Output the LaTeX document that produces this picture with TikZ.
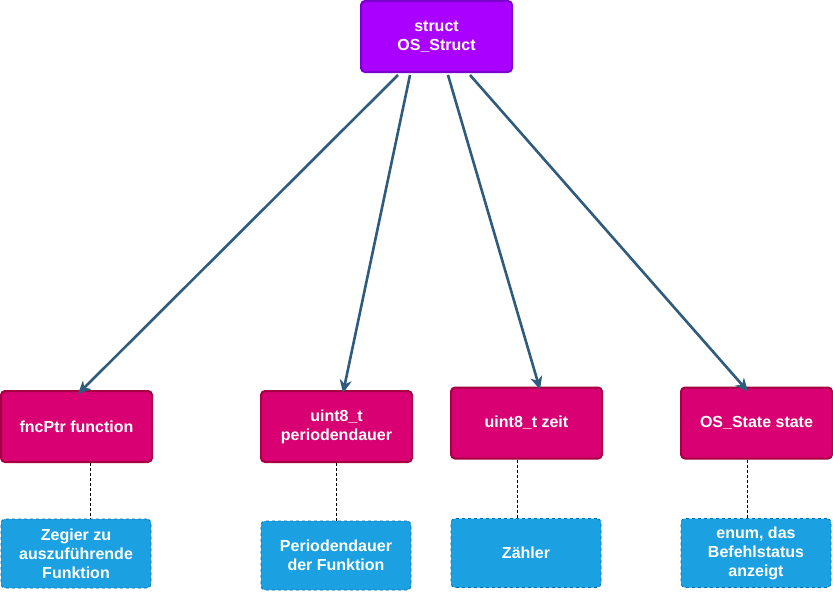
\documentclass[tikz,border=0pt]{standalone}
\usepackage{fontspec}
\setmainfont{Liberation Sans}
\usetikzlibrary{arrows.meta}
\definecolor{lila}{HTML}{AA00FF}
\definecolor{lilarand}{HTML}{7A00CC}
\definecolor{rosa}{HTML}{D80073}
\definecolor{rosarand}{HTML}{A50040}
\definecolor{blau}{HTML}{1BA1E2}
\definecolor{blaurand}{HTML}{006EAF}
\definecolor{pfeil}{HTML}{2F5B7C}
\tikzset{
  kasten/.style={rounded corners=4pt, minimum width=151pt, minimum height=71pt,
    inner sep=0pt, align=center, text=white,
    font=\fontsize{16pt}{19pt}\selectfont\bfseries},
  wurzel/.style={kasten, fill=lila, draw=lilarand, line width=2pt},
  feld/.style={kasten, fill=rosa, draw=rosarand, line width=2pt},
  notiz/.style={kasten, minimum width=150pt, minimum height=69pt, fill=blau,
    draw=blaurand, dashed, line width=0.8pt},
  zeiger/.style={draw=pfeil, line width=2.6pt, -{Stealth[length=13pt,width=12pt,inset=4pt]}},
  verweis/.style={draw=black, densely dashed, line width=0.8pt}
}
\begin{document}
\begin{tikzpicture}[x=1pt,y=-1pt]
\useasboundingbox (0,0) rectangle (833,592);
%struct
  \node[wurzel] (os) at (436.5,36.5) {struct\\OS\_Struct};
%felder
  \node[feld] (f1) at (76.5,426.5) {fncPtr function};
  \node[feld] (f2) at (336.5,426.5) {uint8\_t\\periodendauer};
  \node[feld] (f3) at (526.5,423) {uint8\_t zeit};
  \node[feld] (f4) at (756.5,423) {OS\_State state};
%notizen
  \node[notiz] (n1) at (76,553.5) {Zegier zu\\auszuführende\\Funktion};
  \node[notiz] (n2) at (336,555.5) {Periodendauer\\der Funktion};
  \node[notiz] (n3) at (526,553) {Zähler};
  \node[notiz] (n4) at (756,553) {enum, das\\Befehlstatus\\anzeigt};
%pfeile
  \draw[zeiger] ([xshift=-38.5pt,yshift=-2pt]os.south) -- ([xshift=1.5pt,yshift=-4pt]f1.north);
  \draw[zeiger] ([xshift=-26.5pt,yshift=-2pt]os.south) -- ([xshift=6.5pt,yshift=-3pt]f2.north);
  \draw[zeiger] ([xshift=11.5pt,yshift=-2pt]os.south) -- ([xshift=13.5pt,yshift=-3pt]f3.north);
  \draw[zeiger] ([xshift=33.5pt,yshift=-2pt]os.south) -- ([xshift=-8.5pt,yshift=-5pt]f4.north);
%verweise
  \draw[verweis] ([xshift=14pt]f1.south) -- ([xshift=14pt]f1.south |- n1.north);
  \draw[verweis] (f2.south) -- (f2.south |- n2.north);
  \draw[verweis] ([xshift=-9pt]f3.south) -- ([xshift=-9pt]f3.south |- n3.north);
  \draw[verweis] ([xshift=-9pt]f4.south) -- ([xshift=-9pt]f4.south |- n4.north);
\end{tikzpicture}
\end{document}
